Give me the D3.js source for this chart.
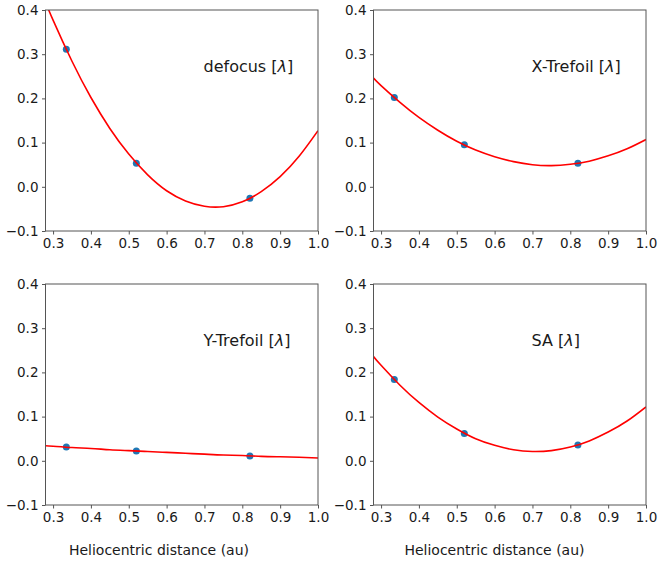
<!DOCTYPE html>
<html>
<head>
<meta charset="utf-8">
<script src="https://cdn.jsdelivr.net/npm/d3@7"></script>
<style>
  html, body { margin: 0; padding: 0; background: #fff; }
  svg { display: block; font-family: "DejaVu Sans", sans-serif; }
</style>
</head>
<body>
<svg id="chart" width="658" height="565"></svg>
<script>
// Heliocentric distances of the three measurements (au)
const distances = [0.335, 0.52, 0.82];

// measured coefficients, one array per panel
const defocusPts = [0.311, 0.053, -0.026];
const xTrefoilPts = [0.202, 0.095, 0.053];
const yTrefoilPts = [0.031, 0.022, 0.011];
const saPts = [0.184, 0.062, 0.036];

// fitted curve at these distances
const curveX = [0.28, 0.30, 0.35, 0.40, 0.45, 0.50, 0.55, 0.60, 0.65, 0.70, 0.75, 0.80, 0.85, 0.90, 0.95, 1.00];
const defocusFit = [0.418, 0.377, 0.284, 0.202, 0.132, 0.074, 0.027, -0.009, -0.032, -0.044, -0.045, -0.034, -0.011, 0.023, 0.069, 0.127];
const xTrefoilFit = [0.246, 0.229, 0.191, 0.157, 0.128, 0.103, 0.083, 0.068, 0.057, 0.050, 0.048, 0.051, 0.058, 0.070, 0.086, 0.107];
const yTrefoilFit = [0.034, 0.033, 0.030, 0.028, 0.025, 0.023, 0.021, 0.019, 0.017, 0.015, 0.013, 0.012, 0.010, 0.009, 0.008, 0.0065];
const saFit = [0.236, 0.216, 0.171, 0.132, 0.099, 0.072, 0.050, 0.035, 0.025, 0.021, 0.023, 0.031, 0.045, 0.065, 0.090, 0.122];

const xTicks = [0.3, 0.4, 0.5, 0.6, 0.7, 0.8, 0.9, 1.0];
const yTicks = [-0.1, 0.0, 0.1, 0.2, 0.3, 0.4];

const panels = [
  { name: "defocus", pts: defocusPts, fit: defocusFit },
  { name: "X-Trefoil", pts: xTrefoilPts, fit: xTrefoilFit },
  { name: "Y-Trefoil", pts: yTrefoilPts, fit: yTrefoilFit },
  { name: "SA", pts: saPts, fit: saFit }
];

const svg = d3.select("#chart");

// panel frames
const colX = [45.5, 373.5];
const rowY = [10, 284];
const pw = 272.5, ph = 221;
const xLabelCenter = [113.5, 121]; // matches the off-centre labels

const frameColor = "#555";

panels.forEach((p, i) => {
  const col = i % 2, row = Math.floor(i / 2);
  const g = svg.append("g").attr("transform", `translate(${colX[col]},${rowY[row]})`);

  const x = d3.scaleLinear().domain([0.28, 1.0]).range([0, pw]);
  const y = d3.scaleLinear().domain([-0.1, 0.4]).range([ph, 0]);

  const clipId = "clip" + i;
  g.append("clipPath").attr("id", clipId)
    .append("rect").attr("width", pw).attr("height", ph);

  // axes
  const fmt = d3.format(".1f");
  const xAxis = g.append("g")
    .attr("transform", `translate(0,${ph})`)
    .call(d3.axisBottom(x).tickValues(xTicks).tickFormat(fmt).tickSize(3.5).tickPadding(3.5));
  const yAxis = g.append("g")
    .call(d3.axisLeft(y).tickValues(yTicks).tickFormat(fmt).tickSize(3.5).tickPadding(3.5));
  [xAxis, yAxis].forEach(a => {
    a.select(".domain").remove();
    a.selectAll(".tick line").attr("stroke", frameColor);
    a.selectAll(".tick text")
      .attr("fill", "#1a1a1a")
      .style("font-size", "13.5px")
      .style("font-family", "'DejaVu Sans', sans-serif");
  });

  // data points
  const plot = g.append("g").attr("clip-path", `url(#${clipId})`);
  plot.selectAll("circle")
    .data(distances.map((d, k) => [d, p.pts[k]]))
    .join("circle")
    .attr("cx", d => x(d[0]))
    .attr("cy", d => y(d[1]))
    .attr("r", 3.5)
    .attr("fill", "#1f77b4");

  // fit curve
  const line = d3.line()
    .x(d => x(d[0]))
    .y(d => y(d[1]))
    .curve(d3.curveNatural);
  plot.append("path")
    .datum(curveX.map((cx, k) => [cx, p.fit[k]]))
    .attr("d", line)
    .attr("fill", "none")
    .attr("stroke", "#ff0000")
    .attr("stroke-width", 1.6);

  // frame
  g.append("rect")
    .attr("width", pw).attr("height", ph)
    .attr("fill", "none")
    .attr("stroke", frameColor)
    .attr("stroke-width", 1);

  // label inside panel
  const t = g.append("text")
    .attr("x", 158).attr("y", 62)
    .attr("fill", "#1a1a1a")
    .style("font-size", "16px");
  t.append("tspan").text(p.name + " [");
  t.append("tspan").attr("font-style", "italic").text("λ");
  t.append("tspan").text("]");

  if (row === 1) {
    g.append("text")
      .attr("x", xLabelCenter[col])
      .attr("y", 271)
      .attr("text-anchor", "middle")
      .attr("fill", "#1a1a1a")
      .style("font-size", "14px")
      .text("Heliocentric distance (au)");
  }
});
</script>
</body>
</html>
